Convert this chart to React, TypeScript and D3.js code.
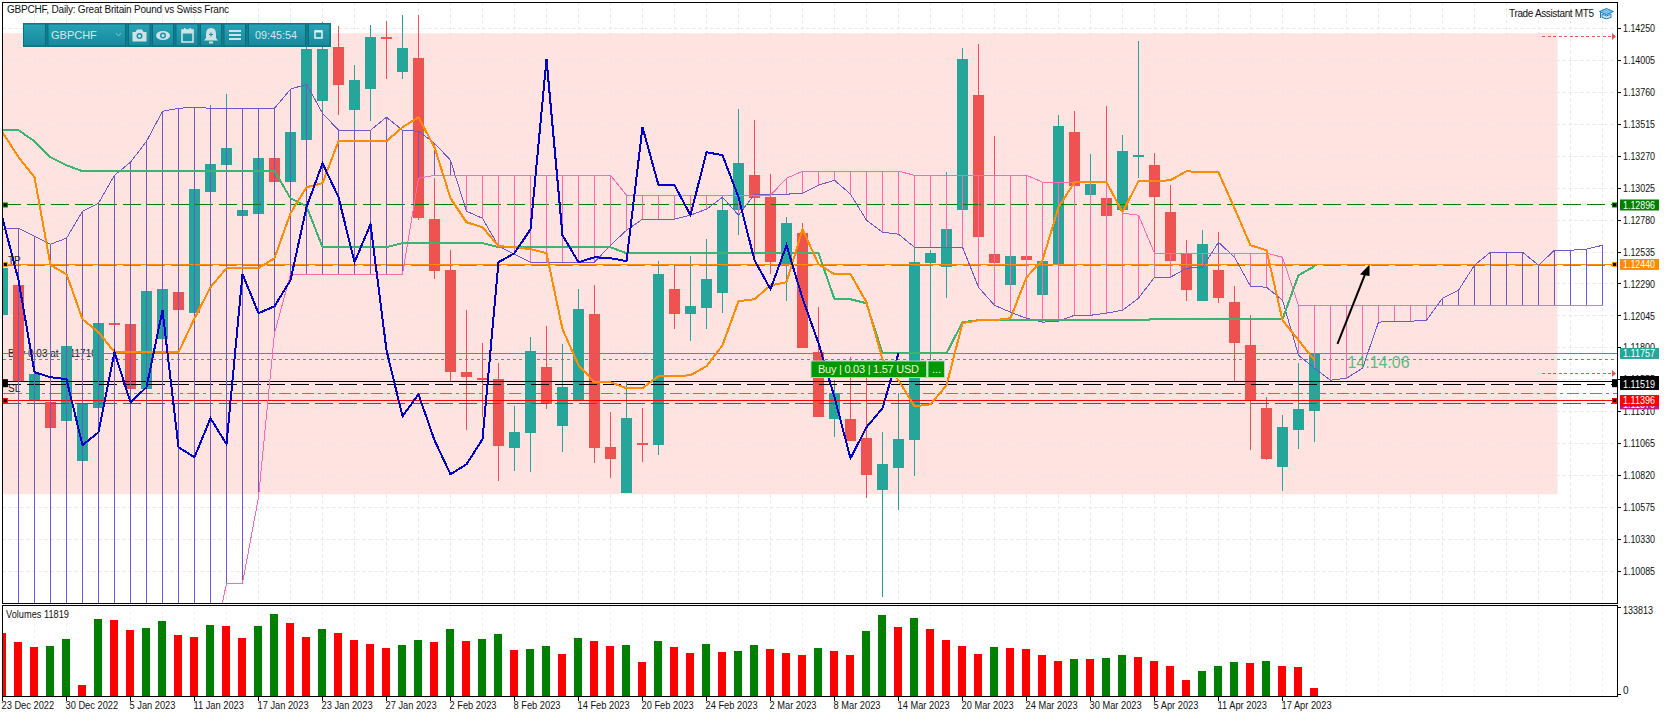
import React from "react";
import * as d3 from "d3";

// All prices are in points (1e-5 of a franc).
const opens=[112050,112280,111398,111383,111237,110930,111340,111989,111981,111483,111866,112227,112066,112994,113201,112810,112825,113255,113071,113393,113692,114106,113623,113784,114183,113915,114022,112787,112396,111613,111567,111559,111030,111145,111651,111199,111398,112058,111038,110685,111068,111053,112250,112058,112104,112219,112856,113124,112956,112442,112679,111766,111252,111252,111107,110708,110877,111091,112449,112419,112856,113738,112518,112280,112503,112204,112442,113454,112971,112948,112856,113263,113201,112841,112518,112158,112396,112150,111820,111337,110884,111168,111314];
const highs=[112457,112319,111628,111414,111843,111398,112012,112012,112004,112257,112273,112257,113040,113661,113746,112879,113278,113278,113477,114114,114298,114268,113968,114275,114306,114352,114352,113101,112549,112089,111836,111682,111352,111882,111966,111828,112250,112280,111306,111536,111337,112465,112434,112503,112633,112956,113631,113546,113132,112802,112756,112112,111552,111728,111575,111153,111452,112572,112549,113147,114099,114129,113424,112503,112503,112495,113585,113615,113286,113654,113431,114152,113293,113048,112626,112702,112687,112273,112050,111421,111283,111682,111759];
const lows=[112012,111513,111375,111160,111206,110907,111321,111958,111460,111460,111843,112058,112043,112971,113178,112787,112802,113048,113048,113370,113600,113585,113447,113539,113861,113861,112779,112327,111544,111168,111268,110777,110854,110846,111329,110999,111391,110915,110800,110685,110923,110976,111943,111851,111943,112066,112664,112472,112365,112158,111797,111268,111114,111084,110646,109887,110554,110815,111705,112181,112856,112649,112449,112280,112472,112204,112442,113040,112971,112810,112856,113101,112526,112373,112158,112158,112142,111544,111015,110938,110700,111022,111076];
const closes=[112411,111544,111598,111183,111813,111375,111989,111974,111483,112234,112250,112089,113017,113209,113332,112856,113255,113071,113454,114091,114091,113815,113853,114183,114168,114099,112794,112388,111613,111575,111552,111045,111153,111774,111367,111498,112096,111030,110946,111260,111053,112365,112058,112119,112327,112856,113216,112948,112457,112756,111797,111268,111452,111084,110823,110907,111099,112457,112526,112710,114014,112649,112449,112503,112472,112465,113500,113040,113055,112810,113309,113278,112956,112465,112242,112595,112181,111836,111398,110946,111191,111329,111759];
const senkouA=[112710,112718,112656,112595,112641,112848,112910,113124,113224,113385,113615,113638,113646,113638,113638,113638,113638,113638,113784,113823,113600,113470,113470,113470,113569,113470,113462,113370,113239,112848,112794,112580,112518,112457,112457,112457,112457,112457,112587,112702,112787,112787,112787,112818,112864,112956,112818,112979,112979,112979,112986,113048,113086,112979,112779,112687,112672,112572,112572,112572,112572,112265,112127,112073,112027,111997,112004,112050,112050,112066,112089,112181,112342,112342,112411,112419,112610,112495,112273,112265,112166,111743,111644,111552,111567,111644,111997,112004,112004,112012,112181,112242,112434,112534,112534,112534,112434,112549,112549,112557,112587];
const senkouB=[109400,109400,109400,109400,109400,109400,109400,109400,109400,109400,109400,109400,109400,109400,109994,109994,110654,111912,112365,112365,112365,112365,112365,112365,112365,112365,113101,113124,113124,113124,113124,113124,113124,113124,113124,113124,113124,113124,113124,112971,112971,112971,112971,112971,112971,112971,112971,112971,112971,113101,113155,113155,113155,113155,113155,113155,113155,113124,113124,113124,113124,113124,113124,113124,113124,113071,113071,113071,113071,113071,112833,112818,112526,112526,112526,112526,112526,112526,112526,112526,112495,112127,112127,112127,112127,112127,112127,112127,112127,112127,112127,112127,112127,112127,112127,112127,112127,112127,112127,112127,112127];
const tenkan=[113454,113263,113109,112434,112365,112020,111920,111766,111766,111766,111766,111766,112027,112265,112411,112411,112411,112488,112833,113032,113063,113385,113385,113385,113385,113493,113569,113339,112948,112764,112725,112580,112572,112557,112526,111943,111667,111536,111536,111490,111490,111582,111582,111590,111659,111820,112158,112173,112280,112303,112710,112442,112365,112365,112150,111713,111552,111352,111367,111513,111989,112012,112012,112027,112342,112472,112879,113071,113071,113071,112841,113078,113078,113086,113155,113147,113147,112871,112587,112549,112012,111859,111705];
const kijun=[113470,113470,113385,113263,113201,113155,113155,113155,113155,113155,113155,113155,113155,113155,113155,113155,113155,113155,112948,112887,112572,112572,112572,112572,112572,112603,112603,112603,112603,112603,112603,112572,112572,112572,112572,112572,112572,112572,112572,112526,112526,112526,112526,112526,112526,112526,112526,112526,112526,112526,112526,112526,112173,112173,112142,111759,111759,111759,111759,111759,111997,112012,112012,112012,112012,112012,112012,112012,112012,112012,112012,112012,112020,112020,112020,112020,112020,112020,112020,112020,112020,112357,112426];
const chikou=[112794,112319,111613,111575,111559,111053,111153,111766,111383,111498,112089,111038,110961,111260,111061,112365,112066,112119,112319,112879,113216,112956,112457,112748,111782,111275,111444,111091,110830,110907,111099,112457,112526,112710,114014,112664,112457,112495,112488,112465,113493,113048,113048,112818,113301,113278,112956,112472,112250,112587,112181,111836,111421,110953,111191,111337,111759];
const volumes=[94080,80850,73500,74970,85260,17640,114660,113190,98490,101430,111720,91140,88200,105840,104370,86730,104370,122010,108780,88200,99960,94080,83790,77910,72030,76440,83790,80850,99960,82320,85260,92610,69090,69190,74970,63210,86730,82320,74970,76440,51450,82320,73500,64680,77910,66150,67620,76440,70560,64680,61740,72030,67620,61740,97020,120540,102900,116130,99960,83790,74970,63210,73500,72030,70560,61740,52920,55860,55860,57330,61740,58800,52920,45570,24990,38220,45570,51450,49980,52920,45570,44100,11819];
const priceTicks=["1.14250","1.14005","1.13760","1.13515","1.13270","1.13025","1.12780","1.12535","1.12290","1.12045","1.11800","1.11555","1.11310","1.11065","1.10820","1.10575","1.10330","1.10085"];
const dateLabels=["23 Dec 2022","30 Dec 2022","5 Jan 2023","11 Jan 2023","17 Jan 2023","23 Jan 2023","27 Jan 2023","2 Feb 2023","8 Feb 2023","14 Feb 2023","20 Feb 2023","24 Feb 2023","2 Mar 2023","8 Mar 2023","14 Mar 2023","20 Mar 2023","24 Mar 2023","30 Mar 2023","5 Apr 2023","11 Apr 2023","17 Apr 2023"];
const levelTP=112440, levelTrend=112896, levelBid=111757, levelEntry=111710, levelBlack=111542, levelBlackDash=111519, levelStopAlt=111447, levelSL=111396, levelMag=111370;
const zoneHigh=114214, zoneLow=110677;
const pendingLevels=[114187,111602];

const W=1670,H=717;
const AX_L=2.5,AX_R=1617.5,TOP=2.5,MAIN_B=603.5,SUB_T=605.5,SUB_B=696.5;
const FONT='"Liberation Sans", Arial, sans-serif';
const UP="#26A69A",DOWN="#EF5350",PURPLE="#6A5ACD",PINK="#FF69B4";

const x=d3.scaleLinear().domain([0,1]).range([2.5,18.5]);
const y=d3.scaleLinear().domain([114250,110085]).range([28.5,571.4]);
const yv=d3.scaleLinear().domain([0,133813]).range([SUB_B,SUB_T]);
const line=d3.line<number>().x((_,i)=>x(i)).y(d=>y(d));
const snap=(v:number)=>Math.round(v-0.5)+0.5;
const pointsOf=(s:string)=>Math.round(parseFloat(s)*100000);

function PriceTag({value,fill,label}:{value:number;fill:string;label:string}){
  const c=y(value);
  return <g>
    <rect x={1620} y={c-5.5} width={39} height={11} fill={fill}/>
    <text x={1623} y={c+3.6} fill="#fff" fontSize={10} textLength={32} lengthAdjust="spacingAndGlyphs">{label}</text>
  </g>;
}
function Sq({cx,value,col,h=5}:{cx:number;value:number;col:string;h?:number}){
  const c=y(value);
  return <g>
    <rect x={cx-2.5} y={c-h/2} width={5} height={h} fill={col}/>
    <rect x={cx-1.5} y={c-1.5} width={3} height={3} fill="#000"/>
  </g>;
}

function Toolbar(){
  const secs:[number,number][]=[[23,46],[47.5,126],[128,150.5],[152,174],[175.5,198.5],[200,222],[223.5,246],[248,306],[308,330.5]];
  const ic="#cfe3e6";
  return <g>
    <rect x={23} y={23} width={308} height={24} fill="#0f7d8e"/>
    {secs.map(([a,b],i)=><rect key={i} x={a+.5} y={24} width={b-a-1} height={22} fill="url(#tb)" stroke="#0c6e7d" strokeWidth={1}/>)}
    <text x={51} y={38.5} fontSize={11} fill="#d3e7ea">GBPCHF</text>
    <path d="M116 33 l2.5 3 l2.5 -3" fill="none" stroke="#7fc4cf" strokeWidth={1}/>
    <g>
      <path d="M132.5 32 h3 l1.5 -2.5 h5 l1.5 2.5 h3 v9.5 h-14 z" fill={ic}/>
      <circle cx={139.5} cy={36} r={3} fill="#1b93a6"/><circle cx={139.5} cy={36} r={1.5} fill={ic}/>
    </g>
    <g>
      <ellipse cx={163} cy={35.5} rx={7} ry={4.6} fill={ic}/>
      <circle cx={163} cy={35.5} r={3} fill="#1b93a6"/><circle cx={163} cy={35.5} r={1.5} fill={ic}/>
    </g>
    <g>
      <rect x={182} y={30} width={11} height={12} fill="none" stroke={ic} strokeWidth={1.6}/>
      <rect x={182} y={30} width={11} height={3.5} fill={ic}/>
      <rect x={184} y={28} width={1.6} height={3} fill={ic}/><rect x={189.5} y={28} width={1.6} height={3} fill={ic}/>
    </g>
    <g>
      <path d="M211 28 q5 0 5 6 v4 l2 2.5 h-14 l2 -2.5 v-4 q0 -6 5 -6 z" fill={ic}/>
      <rect x={209} y={41.5} width={4} height={2} fill={ic}/>
      <path d="M209 34.5 h4 M211 32.5 v4" stroke="#1b93a6" strokeWidth={1.2}/>
    </g>
    <path d="M229 31 h12 M229 35 h12 M229 39 h12" stroke={ic} strokeWidth={1.8}/>
    <text x={255} y={38.5} fontSize={11} fill="#d3e7ea" textLength={42} lengthAdjust="spacingAndGlyphs">09:45:54</text>
    <g>
      <rect x={315} y={31} width={7} height={7} fill="none" stroke="#e8f2f3" strokeWidth={1.5}/>
      <rect x={315} y={30.5} width={7} height={2} fill="#e8f2f3"/>
    </g>
  </g>;
}

export default function App(){
  const bars=opens.map((o,i)=>({i,o,h:highs[i],l:lows[i],c:closes[i]}));
  const gridY=priceTicks.map(pointsOf);
  const gridX:number[]=d3.range(0,102,2);
  const dateIdx=dateLabels.map((_,k)=>k*4);
  const hl=(v:number)=>({x1:AX_L,x2:AX_R,y1:snap(y(v)),y2:snap(y(v))});
  return <svg width={W} height={H} viewBox={`0 0 ${W} ${H}`} style={{position:"absolute",left:0,top:0,display:"block",background:"#fff"}} fontFamily={FONT}>
    <defs>
      <linearGradient id="tb" x1="0" x2="0" y1="0" y2="1">
        <stop offset="0" stopColor="#27a3b5"/><stop offset="1" stopColor="#158a9c"/>
      </linearGradient>
      <clipPath id="main"><rect x={AX_L} y={TOP} width={AX_R-AX_L} height={MAIN_B-TOP}/></clipPath>
    </defs>
    <rect x={AX_L} y={y(zoneHigh)} width={1555} height={y(zoneLow)-y(zoneHigh)} fill="#FFE3E0"/>
    {gridY.map((g,i)=><line key={i} x1={AX_L} x2={AX_R} y1={snap(y(g))} y2={snap(y(g))} stroke="#e9e6e6" strokeDasharray="3 3"/>)}
    {gridX.map(g=><line key={g} x1={x(g)} x2={x(g)} y1={TOP} y2={MAIN_B} stroke="#e9e6e6" strokeDasharray="3 3"/>)}
    {gridX.map(g=><line key={g} x1={x(g)} x2={x(g)} y1={SUB_T} y2={SUB_B} stroke="#eeeeee" strokeDasharray="3 3"/>)}

    <text x={8} y={357} fontSize={10} fill="#222">Buy 0.03 at 1.11710</text>

    <g clipPath="url(#main)">
      {bars.map(b=>{
        const col=b.c>=b.o?UP:DOWN;
        const t=y(Math.max(b.o,b.c)),bt=y(Math.min(b.o,b.c));
        return <g key={b.i} shapeRendering="crispEdges">
          <line x1={x(b.i)} x2={x(b.i)} y1={y(b.h)} y2={y(b.l)} stroke={col}/>
          <rect x={x(b.i)-5.5} y={t} width={11} height={Math.max(bt-t,1.5)} fill={col}/>
        </g>;
      })}
      {/* Horizontal levels */}
      <g shapeRendering="crispEdges">
        <line {...hl(levelTrend)} stroke="#007F00" strokeDasharray="18 6"/>
        <line {...hl(levelTP)} stroke="#FF8C00"/>
        <line x1={AX_L} x2={AX_R} y1={snap(y(levelTP))+1} y2={snap(y(levelTP))+1} stroke="#FF6A00" strokeDasharray="18 6"/>
        <line {...hl(levelBid)} stroke={UP}/>
        <line {...hl(levelEntry)} stroke={UP} strokeDasharray="3 3"/>
        <line {...hl(levelBlack)} stroke="#000"/>
        <line {...hl(levelBlackDash)} stroke="#000" strokeDasharray="18 6"/>
        <line {...hl(levelStopAlt)} stroke={DOWN} strokeDasharray="12 4 3 4"/>
        <line {...hl(levelSL)} stroke="#FF0000"/>
        <line {...hl(levelMag)} stroke="#C71585" strokeDasharray="18 6"/>
      </g>
      {/* Ichimoku cloud */}
      {senkouA.map((a,i)=><line key={i} x1={x(i)} x2={x(i)} y1={y(a)} y2={y(senkouB[i])} stroke={a>senkouB[i]?PURPLE:PINK} shapeRendering="crispEdges"/>)}
      <g fill="none" shapeRendering="crispEdges">
        <path d={line(senkouA)!} stroke={PURPLE} strokeWidth={1}/>
        <path d={line(senkouB)!} stroke={PINK} strokeWidth={1}/>
        <path d={line(kijun)!} stroke="#3CB371" strokeWidth={2}/>
        <path d={line(tenkan)!} stroke="#FF8C00" strokeWidth={2}/>
        <path d={line(chikou)!} stroke="#0000CD" strokeWidth={2}/>
      </g>
    </g>

    <g fontSize={10} fill="#222">
      <text x={8} y={264}>TP</text>
      <text x={8} y={392}>SL</text>
    </g>

    {/* Arrow annotation */}
    <line x1={x(83)+7} x2={x(85)+2.5} y1={y(111830)} y2={y(112440)+10} stroke="#000" strokeWidth={2}/>
    <path d={`M${x(85)+7} ${y(112440)} l-9.5 10 l9.5 1.5 z`} fill="#000"/>
    <text x={1347.5} y={368} fontSize={16} fill="#3CB371" fillOpacity={0.85} textLength={62} lengthAdjust="spacingAndGlyphs">14:14:06</text>

    {/* Trade widget */}
    <rect x={811} y={361} width={115.5} height={16.5} fill="#009900" stroke="#a8d8c8"/>
    <rect x={928} y={361} width={16.5} height={16.5} fill="#009900" stroke="#a8d8c8"/>
    <text x={818} y={373} fontSize={11} fill="#f2f2d8" textLength={101} lengthAdjust="spacing">Buy | 0.03 | 1.57 USD</text>
    <text x={932} y={373} fontSize={11} fill="#fff">...</text>

    {/* Red dotted pending-level arrows on the right */}
    {pendingLevels.map((v,k)=><g key={k}>
      <line x1={1542} x2={1612} y1={snap(y(v))} y2={snap(y(v))} stroke={DOWN} strokeDasharray="3 2.5" shapeRendering="crispEdges"/>
      <path d={`M1612 ${snap(y(v))-3.5} l4 3.5 l-4 3.5 z`} fill={DOWN}/>
    </g>)}

    {/* Volumes */}
    {volumes.map((v,i)=><rect key={i} x={Math.max(x(i)-4.5,AX_L)} y={yv(v)} width={i===0?x(0)+3.5-AX_L:8} height={SUB_B-yv(v)} fill={i>0&&v>volumes[i-1]?"#008000":"#FF0000"} shapeRendering="crispEdges"/>)}
    <text x={6} y={618} fontSize={10} fill="#111" textLength={63} lengthAdjust="spacingAndGlyphs">Volumes 11819</text>

    {/* Frames */}
    <g shapeRendering="crispEdges" stroke="#000" fill="none">
      <rect x={AX_L} y={TOP} width={AX_R-AX_L} height={MAIN_B-TOP}/>
      <rect x={AX_L} y={SUB_T} width={AX_R-AX_L} height={SUB_B-SUB_T}/>
      {gridY.map((g,i)=><line key={i} x1={AX_R} x2={AX_R+3.5} y1={snap(y(g))} y2={snap(y(g))}/>)}
      {dateIdx.map(k=><line key={k} x1={x(k)} x2={x(k)} y1={SUB_B} y2={SUB_B+4}/>)}
      <line x1={AX_R} x2={AX_R+3} y1={607.5} y2={607.5}/>
      <line x1={AX_R} x2={AX_R+3} y1={694.5} y2={694.5}/>
    </g>

    {/* Axis text */}
    <g fontSize={10} fill="#111">
      {priceTicks.map((t,i)=><text key={t} x={1623} y={y(gridY[i])+3.6} textLength={32} lengthAdjust="spacingAndGlyphs">{t}</text>)}
      <text x={1623} y={614} textLength={30} lengthAdjust="spacingAndGlyphs">133813</text>
      <text x={1623} y={694}>0</text>
      {dateLabels.map((t,k)=><text key={t} transform={`translate(${x(dateIdx[k])-1} 709) scale(0.93 1)`}>{t}</text>)}
      <text x={7} y={12.5} textLength={222} lengthAdjust="spacing">GBPCHF, Daily:  Great Britain Pound vs Swiss Franc</text>
      <text x={1509} y={17} textLength={85} lengthAdjust="spacing">Trade Assistant MT5</text>
    </g>

    {/* Price tags */}
    <PriceTag value={levelTrend} fill="#007F00" label="1.12896"/>
    <PriceTag value={levelTP} fill="#FF8C00" label="1.12440"/>
    <PriceTag value={levelBid} fill={UP} label="1.11757"/>
    <rect x={1620} y={376} width={39} height={8} fill="#000"/>
    <PriceTag value={levelBlackDash} fill="#000" label="1.11519"/>
    <PriceTag value={levelMag} fill="#C71585" label="1.11370"/>
    <PriceTag value={levelSL} fill="#FF0000" label="1.11396"/>
    <Sq cx={5.4} value={levelTrend} col="#007F00"/>
    <Sq cx={5.4} value={levelTP} col="#FF8C00"/>
    <Sq cx={5.4} value={levelBlackDash+10} col="#000" h={8}/>
    <Sq cx={5.4} value={levelSL} col="#FF0000"/>
    <Sq cx={1614.5} value={levelTrend} col="#007F00"/>
    <Sq cx={1614.5} value={levelTP} col="#FF8C00"/>
    <Sq cx={1614.5} value={levelBlackDash+10} col="#000" h={8}/>
    <Sq cx={1614.5} value={levelSL} col="#FF0000"/>

    {/* Graduation cap */}
    <g fill="#7cc0ea" stroke="#1d7fc0" strokeWidth={1}>
      <path d="M1599.5 11.5 l7 -3 l7 3 l-7 3.2 z"/>
      <path d="M1602 14 v3.5 q4.5 2.5 9 0 v-3.5 l-4.5 2 z" fill="#cfe8f8"/>
      <path d="M1600.5 12 v6" fill="none"/>
    </g>

    <Toolbar/>
  </svg>;
}
